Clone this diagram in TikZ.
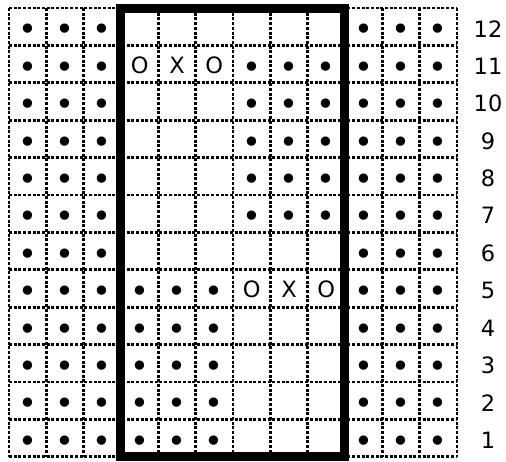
\documentclass[tikz,border=0pt]{standalone}
\usepackage{fontspec}
\setmainfont{DejaVu Sans}
\begin{document}
\begin{tikzpicture}[x=1pt,y=-1pt,
  gridline/.style={line width=2.7pt, dash pattern=on 3pt off 1.7pt},
  frameline/.style={line width=9pt},
  markn/.style={font=\fontsize{22.5}{26}\selectfont, inner sep=0pt, anchor=center},
  dotn/.style={font=\fontsize{32}{36}\selectfont, inner sep=0pt, anchor=center},
  num/.style={font=\fontsize{22.5}{26}\selectfont, inner sep=0pt, anchor=center}]
\useasboundingbox (0,0) rectangle (506,461);
\def\gx{9}\def\gy{8}\def\cw{37.33}\def\ch{37.4}
% grid
\foreach \i in {0,...,12}{
  \draw[gridline] ({\gx+\cw*\i},\gy) -- ({\gx+\cw*\i},{\gy+12*\ch});
  \draw[gridline] (\gx,{\gy+\ch*\i}) -- ({\gx+12*\cw},{\gy+\ch*\i});
}
% bullets
\foreach \r in {1,...,12}
  \foreach \c in {1,2,3,10,11,12}
    \node[dotn] (d-\c-\r) at ({\gx+\cw*(\c-0.5)},{\gy+\ch*(12.5-\r)+6}) {•};
\foreach \r in {7,...,11}
  \foreach \c in {7,8,9}
    \node[dotn] (d-\c-\r) at ({\gx+\cw*(\c-0.5)},{\gy+\ch*(12.5-\r)+6}) {•};
\foreach \r in {1,...,5}
  \foreach \c in {4,5,6}
    \node[dotn] (d-\c-\r) at ({\gx+\cw*(\c-0.5)},{\gy+\ch*(12.5-\r)+6}) {•};
% O X O
\node[markn] (o-4-11) at ({\gx+\cw*3.5},{\gy+\ch*1.5+1}) {O};
\node[markn] (x-5-11) at ({\gx+\cw*4.5},{\gy+\ch*1.5+1}) {X};
\node[markn] (o-6-11) at ({\gx+\cw*5.5},{\gy+\ch*1.5+1}) {O};
\node[markn] (o-7-5) at ({\gx+\cw*6.5},{\gy+\ch*7.5+1}) {O};
\node[markn] (x-8-5) at ({\gx+\cw*7.5},{\gy+\ch*7.5+1}) {X};
\node[markn] (o-9-5) at ({\gx+\cw*8.5},{\gy+\ch*7.5+1}) {O};
% frame
\draw[frameline] ({\gx+3*\cw},\gy) rectangle ({\gx+9*\cw},{\gy+12*\ch});
% row numbers
\foreach \r in {1,...,12}
  \node[num] (n-\r) at (488,{\gy+\ch*(12.5-\r)+2}) {\r};
\end{tikzpicture}
\end{document}
